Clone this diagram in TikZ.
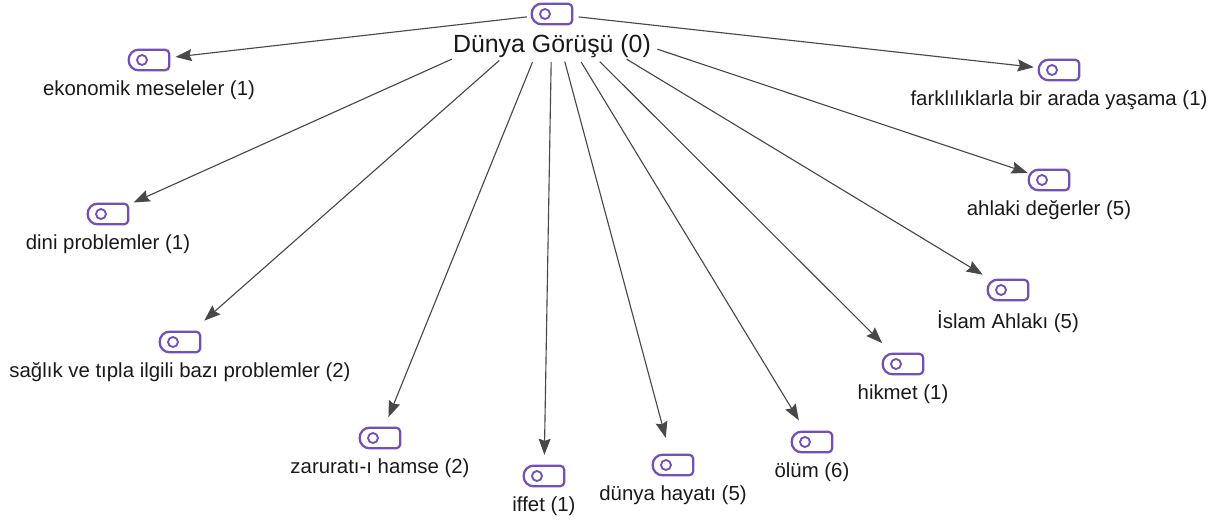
\documentclass[tikz,border=0pt]{standalone}
\usepackage{fontspec}
\setmainfont{Liberation Sans}
\usetikzlibrary{arrows.meta}
\definecolor{tagviolet}{HTML}{7350B8}
\definecolor{linkgray}{HTML}{484848}
\tikzset{
  tagbox/.style={minimum width=1cm, minimum height=0.5cm, inner sep=0pt},
  taglabel/.style={font=\fontsize{14.5}{16}\selectfont, text=black!90, inner sep=1pt},
  rootlabel/.style={font=\fontsize{17.7}{19}\selectfont, text=black!90, inner sep=1pt},
  link/.style={draw=linkgray, line width=0.8pt, -{Stealth[length=11.5pt,width=8.5pt,inset=1.5pt]}}
}
% one code tag with its label below
\newcommand{\tagat}[4][taglabel]{
  \node[tagbox] (#2) at (#3) {};
  \draw[tagviolet, line width=1.6pt, rounded corners=3pt]
    (#2.north) -- (#2.north east) -- (#2.south east) -- (#2.south);
  \draw[tagviolet, line width=1.6pt, rounded corners=7pt]
    (#2.south) -- (#2.south west) -- (#2.north west) -- (#2.north);
  \draw[tagviolet, line width=1.3pt] ([xshift=-0.175cm]#2.center) circle (0.125cm);
  \node[#1, below=0.22cm] (#2label) at (#2.south) {#4};
}
\begin{document}
\begin{tikzpicture}[x=0.025cm, y=-0.025cm]
\useasboundingbox (0, 0) rectangle (1218, 521);
\tagat[rootlabel]{top}{552, 14}{Dünya Görüşü (0)}
\tagat{ekonomik}{149, 60}{ekonomik meseleler (1)}
\tagat{dini}{108, 214}{dini problemler (1)}
\tagat{saglik}{180, 342}{sağlık ve tıpla ilgili bazı problemler (2)}
\tagat{zarurat}{380, 438}{zaruratı-ı hamse (2)}
\tagat{iffet}{544, 476}{iffet (1)}
\tagat{dunya}{673, 465}{dünya hayatı (5)}
\tagat{olum}{812, 442}{ölüm (6)}
\tagat{hikmet}{903, 364}{hikmet (1)}
\tagat{islam}{1008, 290}{İslam Ahlakı (5)}
\tagat{ahlaki}{1049, 180}{ahlaki değerler (5)}
\tagat{farklilik}{1059, 70}{farklılıklarla bir arada yaşama (1)}
% start gap and end gap of each link, in pt
\foreach \target/\startgap/\endgap in {
  ekonomik/18/19, dini/78/20, saglik/50/23, zarurat/37/16,
  iffet/34/15, dunya/35/20, olum/40/18, hikmet/48/21,
  islam/62/21, ahlaki/79/16, farklilik/19/18} {
  \draw[link, shorten <=\startgap pt, shorten >=\endgap pt] (top.center) -- (\target.center);
}
\end{tikzpicture}
\end{document}
